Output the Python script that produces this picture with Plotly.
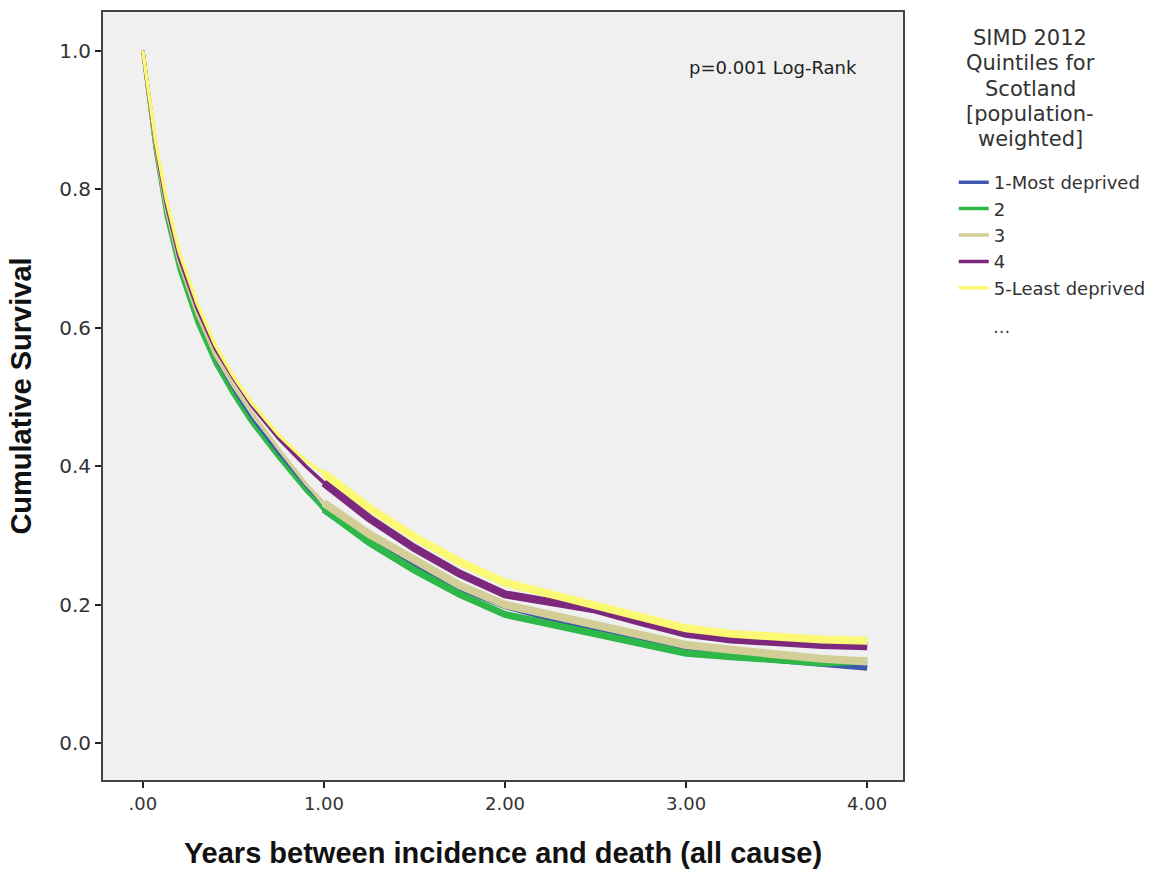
import plotly.graph_objects as go

# ---- data ----
times = [0, 0.035, 0.07, 0.13, 0.2, 0.3, 0.4, 0.5, 0.6, 0.75, 0.9, 1.0,
         1.25, 1.5, 1.75, 2.0, 2.25, 2.5, 2.75, 3.0, 3.25, 3.5, 3.75, 4.0]

surv_q1 = [1.0, 0.93, 0.858, 0.765, 0.69, 0.612, 0.553, 0.508, 0.468, 0.418, 0.37, 0.337,
           0.292, 0.255, 0.224, 0.198, 0.18, 0.165, 0.148, 0.133, 0.126, 0.12, 0.114, 0.109]
surv_q2 = [1.0, 0.928, 0.855, 0.76, 0.685, 0.607, 0.548, 0.503, 0.463, 0.412, 0.365, 0.338,
           0.29, 0.25, 0.215, 0.186, 0.172, 0.157, 0.143, 0.13, 0.125, 0.12, 0.116, 0.119]
surv_q3 = [1.0, 0.932, 0.86, 0.77, 0.695, 0.62, 0.56, 0.516, 0.478, 0.425, 0.375, 0.347,
           0.302, 0.265, 0.228, 0.2, 0.185, 0.17, 0.155, 0.142, 0.135, 0.128, 0.122, 0.118]
surv_q4 = [1.0, 0.934, 0.865, 0.778, 0.702, 0.628, 0.57, 0.527, 0.488, 0.44, 0.4, 0.376,
           0.325, 0.282, 0.245, 0.215, 0.205, 0.193, 0.175, 0.158, 0.15, 0.145, 0.142, 0.14]
surv_q5 = [1.0, 0.936, 0.87, 0.785, 0.71, 0.635, 0.575, 0.53, 0.492, 0.445, 0.408, 0.39,
           0.34, 0.298, 0.262, 0.232, 0.215, 0.2, 0.182, 0.166, 0.158, 0.153, 0.15, 0.148]

group_names = ["1-Most deprived", "2", "3", "4", "5-Least deprived"]
group_surv = [surv_q1, surv_q2, surv_q3, surv_q4, surv_q5]

legend_title_lines = ["SIMD 2012", "Quintiles for", "Scotland", "[population-", "weighted]"]

x_tickvals = [0, 1, 2, 3, 4]
x_ticktext = [".00", "1.00", "2.00", "3.00", "4.00"]
y_tickvals = [0.0, 0.2, 0.4, 0.6, 0.8, 1.0]
y_ticktext = ["0.0", "0.2", "0.4", "0.6", "0.8", "1.0"]

# ---- styles ----
colors = ["#3E58AC", "#2EB848", "#D3CE97", "#7C287D", "#FBF873"]
band_widths = [6, 7, 8, 8, 8]
band_start = times.index(1.0)

fig = go.Figure()
for name, surv, col, bw in zip(group_names, group_surv, colors, band_widths):
    fig.add_trace(go.Scatter(x=times, y=surv, mode="lines", name=name,
                             line=dict(color=col, width=3.5)))
    fig.add_trace(go.Scatter(x=times[band_start:], y=surv[band_start:], mode="lines",
                             name=name, showlegend=False, hoverinfo="skip",
                             line=dict(color=col, width=bw)))

L, R, T, B = 103, 907, 12, 780
W, H = 1163, 874

def px(xp):
    return (xp - L) / (R - L)

def py(yp):
    return (B - yp) / (B - T)

annotations = []
centers = [38, 63, 89, 114, 139]
for line, yc in zip(legend_title_lines, centers):
    annotations.append(dict(text=line, xref="paper", yref="paper", x=px(1035), y=py(yc),
                            xanchor="center", yanchor="middle", showarrow=False,
                            borderpad=0,
                            font=dict(family="DejaVu Sans, sans-serif", size=21,
                                      color="#333333")))
annotations.append(dict(text="p=0.001 Log-Rank", xref="paper", yref="paper",
                        x=px(776), y=py(68), xanchor="center", yanchor="middle",
                        showarrow=False,
                        font=dict(family="DejaVu Sans, sans-serif", size=18, color="#222222")))
annotations.append(dict(text="...", xref="paper", yref="paper",
                        x=px(1006), y=py(326), xanchor="center", yanchor="middle",
                        showarrow=False,
                        font=dict(family="DejaVu Sans, sans-serif", size=18, color="#444444")))

fig.update_layout(
    width=W, height=H,
    margin=dict(l=L, r=W - R, t=T, b=H - B),
    paper_bgcolor="white",
    plot_bgcolor="#F0F0F0",
    font=dict(family="DejaVu Sans, sans-serif", size=19, color="#333333"),
    showlegend=True,
    legend=dict(x=px(958), y=py(164), xref="paper", yref="paper",
                xanchor="left", yanchor="top", bgcolor="rgba(0,0,0,0)",
                font=dict(family="DejaVu Sans, sans-serif", size=18, color="#333333"),
                itemwidth=30, traceorder="normal"),
    annotations=annotations,
    xaxis=dict(range=[-0.22, 4.198], tickvals=x_tickvals, ticktext=x_ticktext,
               automargin=False,
               ticks="outside", ticklen=6, tickwidth=1.5, tickcolor="#222222",
               showgrid=False, zeroline=False, showline=True, mirror=True,
               linecolor="#444444", linewidth=2,
               tickfont=dict(family="DejaVu Sans, sans-serif", size=18, color="#333333"),
               title=dict(text="Years between incidence and death (all cause)",
                          font=dict(family="Liberation Sans, Arial, sans-serif", size=29,
                                    color="#111111", weight="bold"),
                          standoff=30)),
    yaxis=dict(range=[-0.053, 1.056], tickvals=y_tickvals, ticktext=y_ticktext,
               automargin=False,
               ticks="outside", ticklen=6, tickwidth=1.5, tickcolor="#222222",
               showgrid=False, zeroline=False, showline=True, mirror=True,
               linecolor="#444444", linewidth=2,
               tickfont=dict(family="DejaVu Sans, sans-serif", size=20, color="#333333"),
               title=dict(text="Cumulative Survival",
                          font=dict(family="Liberation Sans, Arial, sans-serif", size=29,
                                    color="#111111", weight="bold"),
                          standoff=19)),
)

fig.write_html("out.html")
